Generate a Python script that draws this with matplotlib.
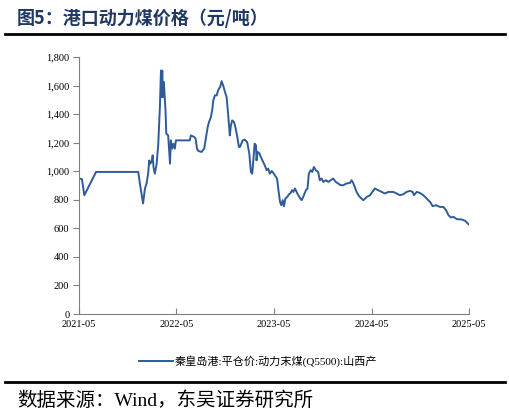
import numpy as np
import pandas as pd
import matplotlib
matplotlib.use('Agg')
import matplotlib.pyplot as plt
from matplotlib.ticker import FuncFormatter

plt.rcParams['font.family'] = ['Liberation Serif', 'Noto Sans CJK SC']

# values (price, yuan/ton)
dates = ['2021-05-05', '2021-05-12', '2021-05-21', '2021-07-04', '2021-12-09', '2021-12-15',
         '2021-12-21', '2021-12-27', '2022-01-03', '2022-01-09', '2022-01-15', '2022-01-19',
         '2022-01-23', '2022-01-28', '2022-02-01', '2022-02-04', '2022-02-09', '2022-02-16',
         '2022-02-22', '2022-02-28', '2022-03-04', '2022-03-06', '2022-03-09', '2022-03-11',
         '2022-03-15', '2022-03-18', '2022-03-21', '2022-03-24', '2022-03-31', '2022-04-03',
         '2022-04-07', '2022-04-10', '2022-04-15', '2022-04-20', '2022-04-25', '2022-04-29',
         '2022-06-20', '2022-06-24', '2022-07-07', '2022-07-12', '2022-07-17', '2022-07-22',
         '2022-08-03', '2022-08-13', '2022-08-18', '2022-08-26', '2022-08-31', '2022-09-07',
         '2022-09-12', '2022-09-16', '2022-09-22', '2022-09-29', '2022-10-02', '2022-10-07',
         '2022-10-12', '2022-10-17', '2022-10-23', '2022-10-30', '2022-11-05', '2022-11-11',
         '2022-11-17', '2022-11-21', '2022-11-26', '2022-12-03', '2022-12-09', '2022-12-14',
         '2022-12-21', '2022-12-25', '2023-01-04', '2023-01-12', '2023-01-21', '2023-01-29',
         '2023-02-04', '2023-02-09', '2023-02-13', '2023-02-18', '2023-02-23', '2023-02-25',
         '2023-03-01', '2023-03-07', '2023-03-13', '2023-03-22', '2023-03-28', '2023-04-04',
         '2023-04-10', '2023-04-16', '2023-04-23', '2023-04-29', '2023-05-09', '2023-05-13',
         '2023-05-19', '2023-05-24', '2023-05-29', '2023-06-03', '2023-06-08', '2023-06-13',
         '2023-06-20', '2023-06-27', '2023-07-03', '2023-07-08', '2023-07-13', '2023-07-19',
         '2023-07-28', '2023-08-04', '2023-08-13', '2023-08-19', '2023-08-29', '2023-09-04',
         '2023-09-09', '2023-09-16', '2023-09-22', '2023-09-28', '2023-10-05', '2023-10-14',
         '2023-10-20', '2023-10-27', '2023-11-02', '2023-11-12', '2023-11-21', '2023-11-30',
         '2023-12-09', '2023-12-19', '2023-12-28', '2024-01-06', '2024-01-16', '2024-01-28',
         '2024-02-10', '2024-02-16', '2024-02-22', '2024-02-28', '2024-03-06', '2024-03-13',
         '2024-03-18', '2024-03-31', '2024-04-13', '2024-04-25', '2024-05-13', '2024-05-26',
         '2024-06-08', '2024-06-20', '2024-07-03', '2024-07-21', '2024-08-03', '2024-08-15',
         '2024-08-28', '2024-09-09', '2024-09-22', '2024-10-02', '2024-10-07', '2024-10-17',
         '2024-10-29', '2024-11-11', '2024-11-23', '2024-12-06', '2024-12-16', '2024-12-28',
         '2025-01-12', '2025-01-25', '2025-02-04', '2025-02-13', '2025-02-22', '2025-03-04',
         '2025-03-17', '2025-04-04', '2025-04-17', '2025-04-29']
prices = [948, 944, 832, 995, 995, 915,
          845, 774, 878, 914, 983, 1076,
          1053, 1065, 1111, 1030, 983, 1053,
          1193, 1449, 1705, 1519, 1705, 1519,
          1624, 1519, 1426, 1263, 1251, 1170,
          1053, 1216, 1158, 1193, 1158, 1216,
          1216, 1251, 1239, 1228, 1158, 1142,
          1135, 1158, 1216, 1309, 1344, 1379,
          1426, 1496, 1531, 1531, 1554, 1578,
          1589, 1631, 1601, 1554, 1519, 1391,
          1251, 1321, 1356, 1344, 1298, 1251,
          1170, 1170, 1216, 1221, 1204, 1123,
          995, 983, 1076, 1193, 1181, 1076,
          1135, 1128, 1100, 1065, 1041, 1007,
          1018, 983, 1002, 988, 960, 948,
          855, 785, 762, 797, 755, 809,
          820, 839, 848, 867, 855, 879,
          844, 820, 797, 820, 867, 879,
          983, 1007, 995, 1030, 1007, 995,
          937, 949, 925, 937, 925, 937,
          949, 925, 914, 902, 902, 914,
          918, 937, 918, 890, 855, 832,
          820, 797, 820, 832, 879, 867,
          855, 844, 855, 855, 844, 832,
          839, 855, 862, 855, 832, 855,
          848, 832, 809, 785, 755, 762,
          750, 750, 727, 692, 676, 680,
          664, 662, 652, 629]

series_name = '秦皇岛港:平仓价:动力末煤(Q5500):山西产'
title_text = '图5：港口动力煤价格（元/吨）'
source_text = '数据来源：Wind，东吴证券研究所'
xtick_labels = ['2021-05', '2022-05', '2023-05', '2024-05', '2025-05']
yticks = [0, 200, 400, 600, 800, 1000, 1200, 1400, 1600, 1800]

df = pd.DataFrame({'date': pd.to_datetime(dates), 'price': prices})

fig = plt.figure(figsize=(5.10, 4.17), dpi=100)
ax = fig.add_axes([79 / 510, 1 - 314 / 417, (469 - 79) / 510, (314 - 57) / 417])

ax.plot(df['date'], df['price'], color='#2F5C99', linewidth=1.4,
        label=series_name)

ax.set_xlim(pd.Timestamp('2021-05-01'), pd.Timestamp('2025-05-01'))
ax.set_ylim(0, 1800)
ax.set_yticks(yticks)
ax.yaxis.set_major_formatter(FuncFormatter(lambda v, p: f'{int(v):,}'))
ax.set_xticks(pd.to_datetime([s + '-01' for s in xtick_labels]))
ax.set_xticklabels(xtick_labels)

for side in ['top', 'right']:
    ax.spines[side].set_visible(False)
for side in ['left', 'bottom']:
    ax.spines[side].set_color('#808080')
    ax.spines[side].set_linewidth(0.8)
ax.tick_params(axis='y', direction='out', length=4, color='#808080',
               labelsize=7.5, pad=3)
ax.tick_params(axis='x', direction='in', length=4, color='#808080',
               labelsize=7.5, pad=4)

leg = ax.legend(loc='center', bbox_to_anchor=(0.46, -0.185), frameon=False,
                fontsize=8, handlelength=3.0, handletextpad=0.2)

# title, rules and source note
fig.text(17 / 510, 1 - 18 / 417, title_text, fontsize=13, fontweight='bold',
         color='#1F3864', va='center', ha='left',
         family=['Noto Sans CJK SC'])
fig.add_artist(plt.Line2D([5 / 510, 505 / 510], [1 - 34 / 417, 1 - 34 / 417],
                          color='black', linewidth=2))
fig.add_artist(plt.Line2D([5 / 510, 505 / 510], [1 - 382 / 417, 1 - 382 / 417],
                          color='black', linewidth=2))
fig.text(17 / 510, 1 - 401 / 417, source_text, fontsize=14,
         color='black', va='center', ha='left',
         family=['Liberation Serif', 'Noto Sans CJK SC'])

fig.savefig('out.png', dpi=100)
